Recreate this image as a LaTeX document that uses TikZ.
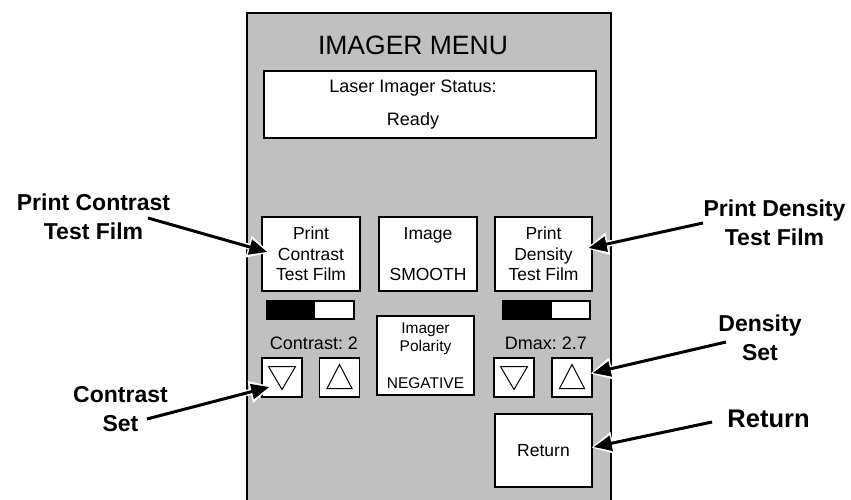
\documentclass[tikz,border=0pt]{standalone}
\usepackage{fontspec}
\setmainfont{Liberation Sans}
\usetikzlibrary{arrows.meta}
\definecolor{panelgray}{RGB}{192,192,192}
\frenchspacing
\begin{document}
\begin{tikzpicture}[x=1pt,y=-1pt,
  box/.style={draw, fill=white, line width=1.4pt, inner sep=0pt, align=center},
  btntext/.style={font=\fontsize{17.5}{20.5}\selectfont},
  lbl/.style={font=\bfseries\fontsize{23}{29}\selectfont, align=center},
  callout/.style={line width=3pt, -{Triangle[length=18pt,width=15pt]}},
  halo/.style={white, line width=6pt, -{Triangle[length=22pt,width=21pt]}, shorten >=-2.5pt},
  tri/.style={line width=1pt, line join=miter},
]
\useasboundingbox (0,0) rectangle (851,500);
\fill[white] (0,0) rectangle (851,500);

% menu panel (runs off the bottom edge)
\draw[fill=panelgray, line width=2.5pt] (247,512) -- (247,13) -- (611,13) -- (611,512);

% title and status display
\node[font=\fontsize{26.5}{30}\selectfont] (title) at (413,45) {IMAGER MENU};
\node[box, minimum width=332pt, minimum height=67pt] (status) at (430,104.5) {};
\node[align=center, font=\fontsize{18}{33}\selectfont] (statustext) at (413,105) {Laser Imager Status:\\Ready};

% top row of buttons
\node[box, btntext, minimum width=98pt, minimum height=74pt] (pc) at (311,254) {Print\\Contrast\\Test Film};
\node[box, btntext, minimum width=98pt, minimum height=74pt] (img) at (428,254) {Image\\[20pt]SMOOTH};
\node[box, btntext, minimum width=97pt, minimum height=74pt] (pd) at (543.5,254) {Print\\Density\\Test Film};

% level bars
\node[box, minimum width=87pt, minimum height=18pt] (cbar) at (310.5,310) {};
\fill (cbar.north west) rectangle ([xshift=49pt]cbar.south west);
\node[box, minimum width=87pt, minimum height=18pt] (dbar) at (546.5,310) {};
\fill (dbar.north west) rectangle ([xshift=50pt]dbar.south west);

% polarity button
\node[box, font=\fontsize{15.5}{18}\selectfont, minimum width=97pt, minimum height=79pt] (pol) at (425.5,355.5) {Imager\\Polarity\\[19pt]NEGATIVE};

% level readouts
\node[font=\fontsize{18}{21}\selectfont] (clevel) at (314,343.5) {Contrast: 2};
\node[font=\fontsize{18}{21}\selectfont] (dlevel) at (546,343.5) {Dmax: 2.7};

% up/down buttons
\node[box, minimum width=40pt, minimum height=39pt] (cdown) at (282,377.5) {};
\node[box, minimum width=40pt, minimum height=39pt] (cup) at (339.5,377.5) {};
\node[box, minimum width=40pt, minimum height=39pt] (ddown) at (514,377.5) {};
\node[box, minimum width=40pt, minimum height=39pt] (dup) at (572,377.5) {};
\foreach \b in {cdown,ddown}
  \draw[tri] ([shift={(-13.5,-11)}]\b.center) -- ([shift={(13.5,-11)}]\b.center) -- ([shift={(0,12)}]\b.center) -- cycle;
\foreach \b in {cup,dup}
  \draw[tri] ([shift={(-12.5,11)}]\b.center) -- ([shift={(12.5,11)}]\b.center) -- ([shift={(0,-13)}]\b.center) -- cycle;

% return button
\node[box, btntext, minimum width=97pt, minimum height=73pt] (ret) at (543.5,450.5) {Return};

% callout labels
\node[lbl] (lpc) at (93.5,217) {Print Contrast\\Test Film};
\node[lbl] (lcs) at (120.5,409.5) {Contrast\\Set};
\node[lbl] (lpd) at (774.5,222.5) {Print Density\\Test Film};
\node[lbl] (lds) at (760,338) {Density\\Set};
\node[lbl, font=\bfseries\fontsize{25.5}{29}\selectfont] (lret) at (768.5,419) {Return};

% callout starting points
\coordinate (a1) at (148,218);
\coordinate (a2) at (147,419);
\coordinate (a3) at (703,223);
\coordinate (a4) at (726,342);
\coordinate (a5) at (712,422);
% callout tips on the buttons
\coordinate (t1) at ([shift={(6,-2)}]pc.west);
\coordinate (t2) at ([shift={(8,9.5)}]cdown.west);
\coordinate (t3) at ([shift={(-4,-6)}]pd.east);
\coordinate (t4) at ([shift={(0,-4.5)}]dup.east);
\coordinate (t5) at ([shift={(1,-3.5)}]ret.east);

% callout arrows with a white outline
\foreach \i in {1,...,5} {
  \draw[halo] (a\i) -- (t\i);
  \draw[callout] (a\i) -- (t\i);
}
\end{tikzpicture}
\end{document}
